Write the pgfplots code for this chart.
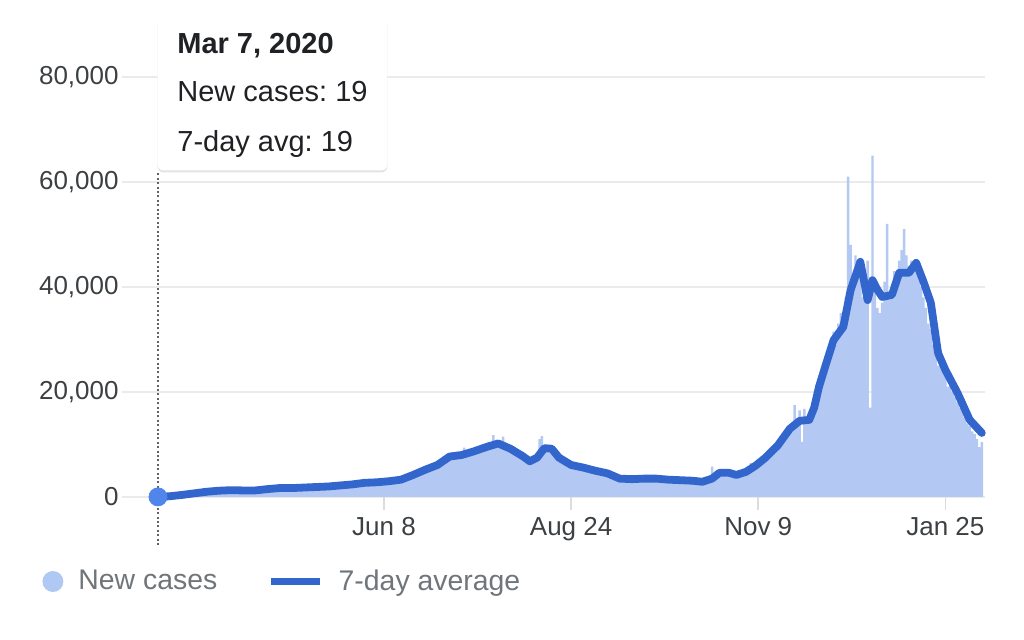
\documentclass[border=0pt]{standalone}
\usepackage{pgfplots}
\pgfplotsset{compat=1.18}
\usepackage{pgfplotstable}
\usepackage{fontspec}
\setmainfont{Liberation Sans}
\usetikzlibrary{shadows}
\frenchspacing
\definecolor{barblue}{HTML}{B3C8F2}
\definecolor{legendblue}{HTML}{B0C8F4}
\definecolor{lineblue}{HTML}{3366CC}
\definecolor{dotblue}{HTML}{5086EC}
\definecolor{labelgray}{HTML}{3C4043}
\definecolor{legendgray}{HTML}{70757A}
\definecolor{gridgray}{HTML}{EBEBEB}
\definecolor{tickgray}{HTML}{DADCE0}
\definecolor{dotgray}{HTML}{5F6368}
\definecolor{tiptext}{HTML}{202124}

\pgfplotstableread[row sep=\\]{cases\\
19\\ 30\\ 50\\ 80\\ 120\\ 150\\ 200\\ 260\\ 320\\ 400\\
450\\ 500\\ 560\\ 620\\ 700\\ 750\\ 800\\ 850\\ 900\\ 950\\
1000\\ 1050\\ 1100\\ 1150\\ 1100\\ 1250\\ 1300\\ 1350\\ 1200\\ 1300\\
1400\\ 1250\\ 1200\\ 1350\\ 1300\\ 1250\\ 1150\\ 1200\\ 1300\\ 1250\\
1200\\ 1300\\ 1400\\ 1500\\ 1600\\ 1550\\ 1500\\ 1700\\ 1650\\ 1800\\
1700\\ 1600\\ 1750\\ 1800\\ 1650\\ 1700\\ 1800\\ 1750\\ 1600\\ 1850\\
1800\\ 1900\\ 1750\\ 1850\\ 2000\\ 1900\\ 1800\\ 2100\\ 1950\\ 2000\\
2100\\ 1900\\ 2000\\ 2200\\ 2300\\ 2100\\ 2200\\ 2400\\ 2300\\ 2500\\
2400\\ 2600\\ 2500\\ 2700\\ 2800\\ 2600\\ 2700\\ 2900\\ 2800\\ 2700\\
2800\\ 3000\\ 2900\\ 2700\\ 3100\\ 3000\\ 3200\\ 3100\\ 3300\\ 3200\\
3400\\ 3300\\ 3600\\ 3800\\ 4300\\ 4500\\ 4800\\ 5000\\ 4900\\ 5300\\
5500\\ 5400\\ 5800\\ 6200\\ 6000\\ 6500\\ 6800\\ 7200\\ 7500\\ 8200\\
8000\\ 7600\\ 8400\\ 8600\\ 7900\\ 8300\\ 9400\\ 8100\\ 8800\\ 8500\\
9000\\ 8600\\ 9500\\ 9200\\ 9800\\ 9400\\ 10500\\ 9900\\ 11800\\ 10200\\
10800\\ 9800\\ 11500\\ 9400\\ 10000\\ 8800\\ 9500\\ 8200\\ 8600\\ 7500\\
8000\\ 6800\\ 7200\\ 6400\\ 7000\\ 7800\\ 8200\\ 11000\\ 11600\\ 9500\\
9800\\ 8500\\ 9000\\ 7800\\ 7500\\ 7000\\ 6800\\ 6400\\ 6000\\ 6500\\
6000\\ 5900\\ 5500\\ 5800\\ 5200\\ 5600\\ 5400\\ 5000\\ 4800\\ 5100\\
5000\\ 4700\\ 4500\\ 4900\\ 4300\\ 4200\\ 4600\\ 3800\\ 3600\\ 3300\\
3400\\ 3500\\ 3300\\ 3600\\ 3200\\ 3400\\ 3500\\ 3300\\ 3700\\ 3400\\
3600\\ 3500\\ 3300\\ 3700\\ 3500\\ 3400\\ 3600\\ 3300\\ 3500\\ 3200\\
3400\\ 3300\\ 3100\\ 3500\\ 3200\\ 3300\\ 3000\\ 3400\\ 3100\\ 3200\\
3000\\ 3300\\ 2900\\ 3100\\ 2800\\ 3200\\ 3500\\ 4000\\ 5800\\ 4300\\
4800\\ 4500\\ 4900\\ 4200\\ 4700\\ 4400\\ 4000\\ 4300\\ 4500\\ 4700\\
4600\\ 5200\\ 5000\\ 5500\\ 6500\\ 6000\\ 6200\\ 7000\\ 6700\\ 7500\\
7400\\ 8300\\ 8000\\ 8800\\ 9500\\ 9300\\ 10500\\ 11000\\ 10800\\ 12000\\
12500\\ 13000\\ 17500\\ 13500\\ 16500\\ 10500\\ 16800\\ 14000\\ 16000\\ 15000\\
17000\\ 20000\\ 22000\\ 23000\\ 25000\\ 26000\\ 28000\\ 30000\\ 31500\\ 29000\\
33000\\ 35000\\ 33000\\ 38000\\ 61000\\ 48000\\ 42000\\ 46000\\ 45000\\ 43000\\
38000\\ 42000\\ 45000\\ 17000\\ 65000\\ 40000\\ 36000\\ 35000\\ 37000\\ 41000\\
52000\\ 38000\\ 40000\\ 43000\\ 41000\\ 45000\\ 47000\\ 51000\\ 46000\\ 44000\\
45000\\ 43000\\ 44000\\ 42000\\ 40000\\ 38000\\ 36000\\ 33000\\ 32000\\ 29000\\
27000\\ 25000\\ 28000\\ 24000\\ 23000\\ 21000\\ 22000\\ 20000\\ 19000\\ 18000\\
17000\\ 16500\\ 15000\\ 14000\\ 13500\\ 12500\\ 12000\\ 11000\\ 9500\\ 10500\\
}\cases

\begin{document}
\begin{tikzpicture}
\useasboundingbox (0,0) rectangle (512pt,-320pt);
\begin{axis}[
  at={(61pt,-248.5pt)}, anchor=south west,
  scale only axis, width=431.5pt, height=210pt,
  xmin=-14.8, xmax=340.3, ymin=0, ymax=80000,
  clip=false,
  axis line style={draw=none},
  scaled y ticks=false,
  ytick={0,20000,40000,60000,80000},
  yticklabels={0,{20,000},{40,000},{60,000},{80,000}},
  ymajorgrids, grid style={draw=gridgray, line width=0.8pt},
  xtick={93,170,247,324},
  xticklabels={Jun 8,Aug 24,Nov 9,Jan 25},
  xtick pos=bottom,
  tick align=outside, major tick length=6.5pt,
  xtick style={draw=tickgray, line width=0.8pt},
  ytick style={draw=none},
  ticklabel style={font=\fontsize{13}{15}\selectfont, text=labelgray},
  yticklabel style={inner sep=0pt, xshift=5pt},
  legend style={at={(-0.0927,-0.2012)}, anchor=west, draw=none, fill=none,
    inner sep=0pt, font=\fontsize{14.2}{16}\selectfont, text=legendgray,
    /tikz/every even column/.append style={column sep=23pt},
    nodes={inner sep=2pt}},
  legend columns=-1, legend cell align=left,
]
\draw[dotgray, line width=1pt, dash pattern=on 1pt off 1.2pt] (axis cs:0,-9140) -- (axis cs:0,61900);
\addplot[ybar, bar width=1.0, bar shift=0pt, fill=barblue, draw=none,
  legend image code/.code={\fill[legendblue] (5.25pt,0pt) circle (5.25pt); \path (0pt,0pt) (16pt,0pt);}]
  table[x expr=\coordindex, y=cases]{\cases};
\addlegendentry{New cases}
\addplot[lineblue, line width=3.9pt, line join=round, line cap=round,
  legend image code/.code={\draw[lineblue, line width=3.5pt, line cap=butt] (0pt,0pt) -- (24.5pt,0pt); \path (30pt,0pt);}]
  coordinates {
  (0,19) (5,150) (10,400) (15,700) (20,1000) (25,1200) (30,1300) (35,1250)
  (40,1250) (45,1500) (50,1700) (55,1700) (60,1800) (65,1900) (70,2000)
  (75,2200) (80,2400) (85,2700) (90,2800) (95,3000) (100,3300) (105,4200)
  (110,5200) (115,6100) (120,7700) (125,8000) (130,8700) (135,9500)
  (140,10200) (145,9200) (150,7800) (153,6800) (156,7500) (159,9300)
  (162,9200) (165,7500) (170,6100) (175,5600) (180,5000) (185,4500)
  (190,3500) (195,3400) (200,3500) (205,3500) (210,3300) (215,3200)
  (220,3100) (224,2900) (228,3500) (231,4600) (235,4600) (238,4200)
  (242,4800) (246,6000) (250,7500) (255,9800) (260,13000) (264,14500)
  (268,14700) (270,17000) (272,21000) (275,25500) (278,29900) (282,32400)
  (285,39400) (289,44800) (291,40000) (292,37500) (294,41300) (296,39500)
  (298,38100) (302,38500) (305,42700) (309,42700) (312,44600) (315,41000)
  (318,37000) (321,27400) (324,24200) (329,19800) (334,14700) (339,12200)
  };
\addlegendentry{7-day average}
\addplot[forget plot, only marks, mark=*, mark size=4.5pt,
  mark options={fill=dotblue, draw=dotblue}] coordinates {(0,19)};
\end{axis}
\node[fill=white, rounded corners=3pt,
  drop shadow={shadow xshift=0pt, shadow yshift=-1pt, opacity=0.22},
  minimum width=115pt, minimum height=76.5pt, anchor=north west, inner sep=0pt]
  at (78.5pt,-8.5pt) {};
\node[anchor=base west, inner sep=0pt, text=tiptext, font=\fontsize{14.5}{17}\selectfont\bfseries] at (88.5pt,-27pt) {Mar 7, 2020};
\node[anchor=base west, inner sep=0pt, text=tiptext, font=\fontsize{14.5}{17}\selectfont] at (88.5pt,-51pt) {New cases: 19};
\node[anchor=base west, inner sep=0pt, text=tiptext, font=\fontsize{14.5}{17}\selectfont] at (88.5pt,-76pt) {7-day avg: 19};
\end{tikzpicture}
\end{document}
